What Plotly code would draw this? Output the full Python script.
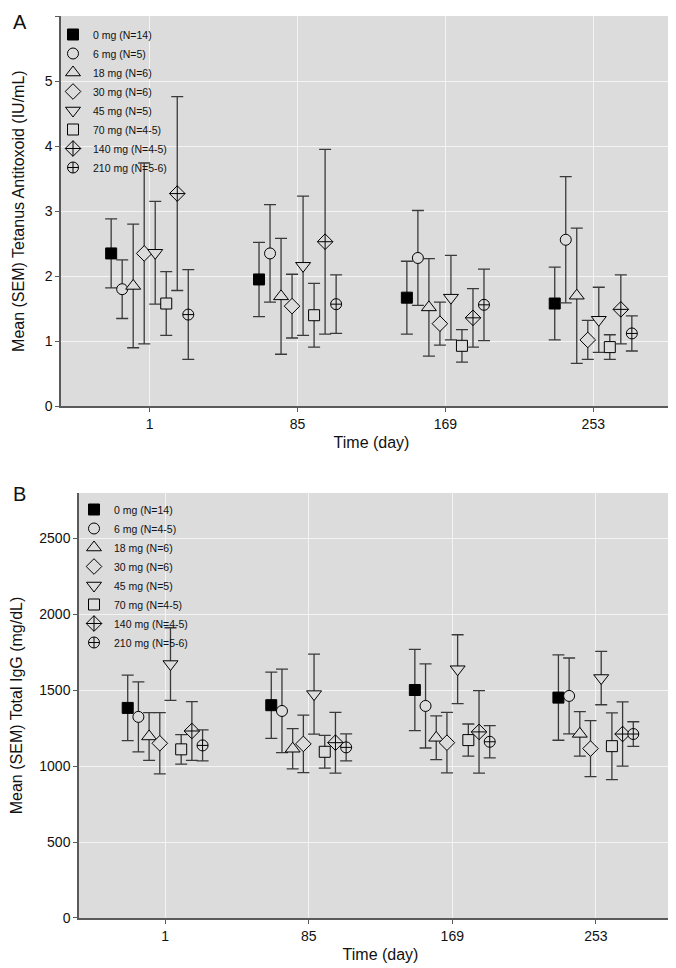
import plotly.graph_objects as go

# ---- data ----
days = ["1", "85", "169", "253"]
doses = ["0 mg", "6 mg", "18 mg", "30 mg", "45 mg", "70 mg", "140 mg", "210 mg"]
labels_a = ["0 mg (N=14)", "6 mg (N=5)", "18 mg (N=6)", "30 mg (N=6)",
            "45 mg (N=5)", "70 mg (N=4-5)", "140 mg (N=4-5)", "210 mg (N=5-6)"]
labels_b = ["0 mg (N=14)", "6 mg (N=4-5)", "18 mg (N=6)", "30 mg (N=6)",
            "45 mg (N=5)", "70 mg (N=4-5)", "140 mg (N=4-5)", "210 mg (N=5-6)"]

# Panel A: tetanus antitoxoid (IU/mL), mean and SEM per dose, per day
tet_mean = [
    [2.35, 1.95, 1.67, 1.58],
    [1.80, 2.35, 2.28, 2.56],
    [1.85, 1.69, 1.52, 1.70],
    [2.35, 1.54, 1.27, 1.02],
    [2.36, 2.16, 1.67, 1.33],
    [1.58, 1.40, 0.93, 0.91],
    [3.27, 2.53, 1.36, 1.49],
    [1.41, 1.57, 1.56, 1.12],
]
tet_sem = [
    [0.53, 0.57, 0.56, 0.56],
    [0.45, 0.75, 0.73, 0.97],
    [0.95, 0.89, 0.75, 1.04],
    [1.39, 0.49, 0.33, 0.30],
    [0.79, 1.07, 0.65, 0.50],
    [0.49, 0.49, 0.25, 0.19],
    [1.49, 1.42, 0.45, 0.53],
    [0.69, 0.45, 0.55, 0.27],
]

# Panel B: total IgG (mg/dL)
igg_mean = [
    [1384, 1402, 1502, 1452],
    [1325, 1364, 1397, 1463],
    [1196, 1115, 1187, 1213],
    [1151, 1147, 1155, 1116],
    [1673, 1475, 1639, 1581],
    [1111, 1095, 1172, 1132],
    [1232, 1155, 1226, 1212],
    [1137, 1124, 1161, 1212],
]
igg_sem = [
    [216, 218, 268, 281],
    [230, 275, 277, 250],
    [157, 133, 144, 147],
    [202, 189, 199, 184],
    [239, 264, 227, 176],
    [97, 108, 106, 220],
    [193, 200, 272, 212],
    [102, 89, 106, 81],
]

# ---- styling ----
BG = "#dcdcdc"
symbols = ["square", "circle", "triangle-up", "diamond", "triangle-down",
           "square", "diamond-cross", "circle-cross"]
sizes = [11, 11, 13, 12, 13, 11, 12, 11]
fills = ["black"] + [BG] * 7
step = 0.0745  # horizontal spacing between dose groups (in category units)
FONT = "Liberation Sans, Arial, sans-serif"

fig = go.Figure()

def add_panel(means, sems, labels, xa, ya, legend):
    for i in range(len(doses)):
        xs = [k + (i - 3.5) * step for k in range(len(days))]
        fig.add_trace(go.Scatter(
            x=xs, y=means[i], mode="markers", name=labels[i],
            xaxis=xa, yaxis=ya, legend=legend,
            marker=dict(symbol=symbols[i], size=sizes[i], color=fills[i],
                        line=dict(color="black", width=1)),
            error_y=dict(type="data", array=sems[i], visible=True,
                         color="#3a3a3a", thickness=1.3, width=6),
        ))

add_panel(tet_mean, tet_sem, labels_a, "x", "y", "legend")
add_panel(igg_mean, igg_sem, labels_b, "x2", "y2", "legend2")

axis_common = dict(
    showline=True, linecolor="#5a5a5a", linewidth=1.5,
    ticks="outside", ticklen=4, tickcolor="#5a5a5a", tickwidth=1,
    showgrid=True, gridcolor="#f4f4f4", gridwidth=1, zeroline=False,
    tickfont=dict(size=14, color="#111", family=FONT),
)

W = 674.0
H = 968 - 8 - 58
fig.update_layout(
    width=676, height=968,
    margin=dict(l=0, r=2, t=8, b=58),
    paper_bgcolor="white", plot_bgcolor=BG,
    font=dict(family=FONT, color="#111"),
    showlegend=True,
    xaxis=dict(domain=[53 / W, 1], range=[-0.6, 3.6], tickvals=[0, 1, 2, 3],
               ticktext=days, anchor="y",
               title=dict(text="Time (day)", font=dict(size=16), standoff=6),
               **axis_common),
    yaxis=dict(domain=[0.5673, 1], range=[0, 6], tickvals=[0, 1, 2, 3, 4, 5, 6],
               anchor="x",
               title=dict(text="Mean (SEM) Tetanus Antitoxoid (IU/mL)",
                          font=dict(size=16), standoff=16),
               **axis_common),
    xaxis2=dict(domain=[71 / W, 1], range=[-0.6, 3.6], tickvals=[0, 1, 2, 3],
                ticktext=days, anchor="y2",
                title=dict(text="Time (day)", font=dict(size=16), standoff=6),
                **axis_common),
    yaxis2=dict(domain=[0, 0.4712], range=[0, 2800],
                tickvals=[0, 500, 1000, 1500, 2000, 2500], anchor="x2",
                title=dict(text="Mean (SEM) Total IgG (mg/dL)",
                           font=dict(size=16), standoff=13),
                **axis_common),
    legend=dict(x=45 / W, y=(910 - 12) / H, xanchor="left", yanchor="top",
                bgcolor="rgba(0,0,0,0)", font=dict(size=10.5, family=FONT),
                itemwidth=30),
    legend2=dict(x=66 / W, y=(910 - 487) / H, xanchor="left", yanchor="top",
                 bgcolor="rgba(0,0,0,0)", font=dict(size=10.5, family=FONT),
                 itemwidth=30),
    annotations=[
        dict(text="A", x=0.004, y=(910 - 14) / H, xref="paper", yref="paper",
             showarrow=False, font=dict(size=20, family=FONT),
             xanchor="left", yanchor="middle"),
        dict(text="B", x=0.004, y=(910 - 486) / H, xref="paper", yref="paper",
             showarrow=False, font=dict(size=20, family=FONT),
             xanchor="left", yanchor="middle"),
    ],
)

fig.write_html("out.html")
